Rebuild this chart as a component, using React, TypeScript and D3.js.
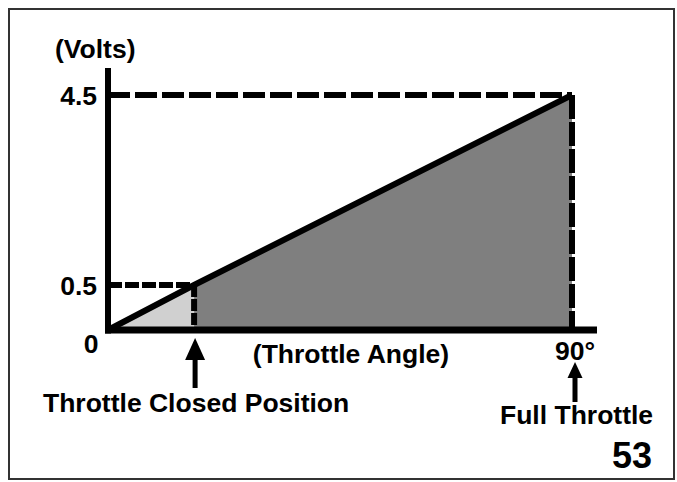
import React from 'react';
import { line, scaleLinear } from 'd3';

// throttle angle (deg) vs sensor output (volts)
const angles = [0, 16.7, 90];
const volts = [0, 0.5, 4.5];
const yTicks = ['0.5', '4.5'];
const closedAngle = 16.7;
const fullAngle = 90;

const W = 677, H = 482;
const x = scaleLinear().domain([0, 90]).range([108, 572]);
// schematic axis: not proportional, so use a polylinear scale
const y = scaleLinear().domain([0, 0.5, 4.5]).range([330, 285, 95]);

const font = '"Liberation Sans", Arial, Helvetica, sans-serif';

const Arrow: React.FC<{ cx: number; tip: number; end: number; head: number; hw: number }> = ({ cx, tip, end, head, hw }) => (
  <g>
    <rect x={cx - 2.5} y={tip + head - 1} width={5} height={end - tip - head + 1} fill="#000" />
    <path d={`M${cx},${tip} L${cx + hw / 2},${tip + head} L${cx - hw / 2},${tip + head} Z`} fill="#000" />
  </g>
);

export default function App() {
  const pts = angles.map((a, i) => [x(a), y(volts[i])] as [number, number]);
  const ln = line();

  const light = [
    [x(0), y(0)],
    [x(closedAngle), y(0)],
    [x(closedAngle), y(0.5)],
  ] as [number, number][];
  const dark = [
    [x(closedAngle), y(0)],
    [x(closedAngle), y(0.5)],
    [x(fullAngle), y(4.5)],
    [x(fullAngle), y(0)],
  ] as [number, number][];

  return (
    <svg width={W} height={H} style={{ position: 'absolute', left: 0, top: 0, background: '#fff' }} fontFamily={font} fontWeight="bold">
      <rect x={9} y={9} width={665} height={470} fill="none" stroke="#333" strokeWidth={2} />

      <path d={ln(light) + 'Z'} fill="#d0d0d0" />
      <path d={ln(dark) + 'Z'} fill="#7f7f7f" />

      {/* guide lines */}
      <line x1={x(0)} x2={x(fullAngle)} y1={y(4.5)} y2={y(4.5)} stroke="#000" strokeWidth={6} strokeDasharray="22 5" />
      <line x1={x(0)} x2={x(closedAngle)} y1={y(0.5)} y2={y(0.5)} stroke="#000" strokeWidth={6} strokeDasharray="14 3" />
      <line x1={x(fullAngle)} x2={x(fullAngle)} y1={y(4.5)} y2={y(0)} stroke="#000" strokeWidth={6} strokeDasharray="24 3" />
      <line x1={x(closedAngle)} x2={x(closedAngle)} y1={y(0.5)} y2={y(0)} stroke="#000" strokeWidth={6} strokeDasharray="12 2" />

      {/* response line */}
      <path d={ln(pts) ?? ''} fill="none" stroke="#000" strokeWidth={6} strokeLinejoin="round" />

      {/* axes */}
      <line x1={x(0)} x2={x(0)} y1={68} y2={y(0) + 3.5} stroke="#000" strokeWidth={6} />
      <line x1={x(0) - 3} x2={597} y1={y(0)} y2={y(0)} stroke="#000" strokeWidth={7} />

      <g fontSize={26.5} fill="#000">
        <text x={55} y={58}>(Volts)</text>
        {yTicks.map((t) => (
          <text key={t} x={97} y={y(+t) + 10} textAnchor="end">{t}</text>
        ))}
        <text x={91} y={353} textAnchor="middle">0</text>
        <text x={351} y={363} textAnchor="middle">(Throttle Angle)</text>
        <text x={575} y={360} textAnchor="middle">90°</text>
        <text x={43} y={412}>Throttle Closed Position</text>
        <text x={500} y={424}>Full Throttle</text>
        <text x={652} y={468} fontSize={36} textAnchor="end">53</text>
      </g>

      <Arrow cx={x(closedAngle) + 1} tip={338} end={388} head={22} hw={20} />
      <Arrow cx={575} tip={362} end={402} head={16} hw={15} />
    </svg>
  );
}
